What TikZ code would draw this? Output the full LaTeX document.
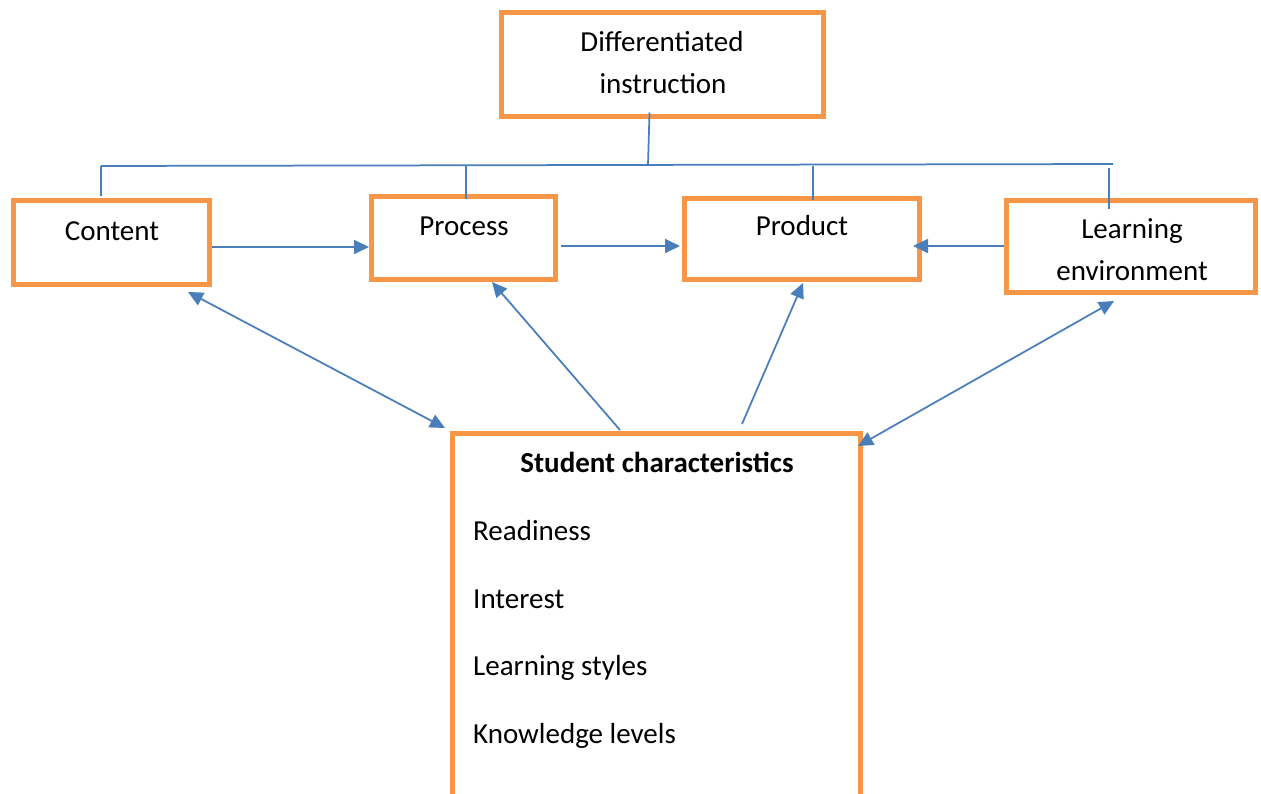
\documentclass[tikz,border=0pt]{standalone}
\usepackage{fontspec}
\setmainfont{Carlito}
\usetikzlibrary{arrows.meta,calc}
\definecolor{boxorange}{HTML}{F79646}
\definecolor{lineblue}{HTML}{4A7EBB}
\begin{document}
\begin{tikzpicture}[x=1pt,y=-1pt,
  box/.style={draw=boxorange, line width=5pt, rectangle, anchor=north west, inner sep=0pt, outer sep=0pt},
  lbl/.style={font=\fontsize{29}{35}\selectfont, inner sep=0pt, anchor=base},
  item/.style={font=\fontsize{29}{35}\selectfont, inner sep=0pt, anchor=base west},
  conn/.style={draw=lineblue, line width=1.75pt},
  arr/.style={conn, -{Triangle[length=15pt,width=14pt]}},
  darr/.style={conn, {Triangle[length=15pt,width=14pt]}-{Triangle[length=15pt,width=14pt]}}]
\useasboundingbox (0,0) rectangle (1261,793);
\clip (0,0) rectangle (1261,793);
\fill[white] (0,0) rectangle (1261,793);

% boxes
\node[box, minimum width=322pt, minimum height=104pt] (diff) at (501.5,12.5) {};
\node[box, minimum width=196pt, minimum height=84pt] (content) at (13.5,200.5) {};
\node[box, minimum width=184pt, minimum height=83pt] (process) at (371.5,196.5) {};
\node[box, minimum width=235pt, minimum height=81pt] (product) at (684.5,198.5) {};
\node[box, minimum width=249pt, minimum height=92pt] (learning) at (1006.5,200.5) {};
\node[box, minimum width=408pt, minimum height=386pt] (student) at (452.5,433.5) {};

% texts
\node[lbl] (tdiff1) at (662,51) {Differentiated};
\node[lbl] (tdiff2) at (663,93) {instruction};
\node[lbl] (tcontent) at (112,240) {Content};
\node[lbl] (tprocess) at (464,235) {Process};
\node[lbl] (tproduct) at (802,235) {Product};
\node[lbl] (tlearn1) at (1132,238) {Learning};
\node[lbl] (tlearn2) at (1132,280) {environment};
\node[lbl, font=\fontsize{29}{35}\selectfont\bfseries] (tstudent) at (657,472) {Student characteristics};
\node[item] (ti1) at (473,540) {Readiness};
\node[item] (ti2) at (473,608) {Interest};
\node[item] (ti3) at (473,675) {Learning styles};
\node[item] (ti4) at (473,743) {Knowledge levels};

% tree connectors
\coordinate (bus) at (648,165);
\coordinate (busL) at (101,166);
\coordinate (busR) at (1113,164);
\draw[conn] ($(diff.south)+(-13,-4)$) -- (bus);
\draw[conn] (busL) -- (busR);
\draw[conn] ($(content.north)+(-10.5,-4.5)$) -- ++(0,-30);
\draw[conn] ($(process.north)+(2.5,2.5)$) -- ++(0,-34);
\draw[conn] ($(product.north)+(11,1.5)$) -- ++(0,-34);
\draw[conn] ($(learning.north)+(-22,8.5)$) -- ++(0,-41);

% horizontal arrows
\draw[arr] ($(content.east)+(2.5,4.5)$) -- ($(process.west)+(-2.5,9)$);
\draw[arr] ($(process.east)+(5.5,8)$) -- ($(product.west)+(-4.5,7)$);
\draw[arr] ($(learning.west)+(-2.5,-0.5)$) -- ($(product.east)+(-6.5,7)$);

% diagonal arrows
\draw[darr] ($(content.south)+(76.5,7.5)$) -- ($(student.north west)+(-7.5,-5.5)$);
\draw[arr] ($(student.north)+(-36.5,-3.5)$) -- ($(process.south)+(28.5,2.5)$);
\draw[arr] ($(student.north)+(85.5,-9.5)$) -- ($(product.south)+(1,3.5)$);
\draw[darr] ($(student.north east)+(-2.5,12.5)$) -- ($(learning.south)+(-17,8.5)$);
\end{tikzpicture}
\end{document}
